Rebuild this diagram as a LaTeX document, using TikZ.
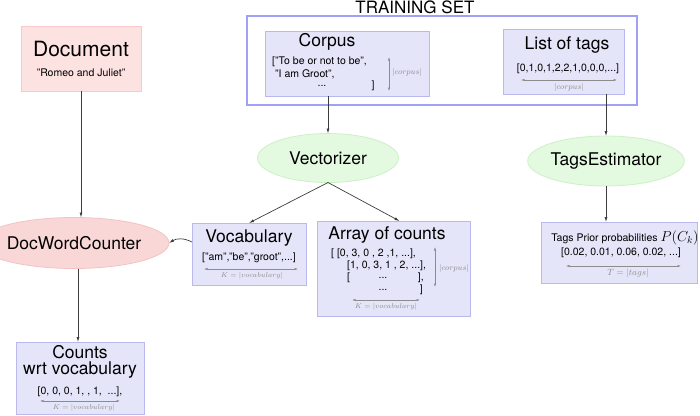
\documentclass[tikz,border=0pt]{standalone}
\usepackage{fontspec}
\setmainfont{TeX Gyre Heros}
\usetikzlibrary{shapes.geometric,arrows.meta}

\definecolor{boxfill}{RGB}{229,229,250}
\definecolor{boxline}{RGB}{185,185,240}
\definecolor{setline}{RGB}{160,160,245}
\definecolor{docfill}{RGB}{253,226,226}
\definecolor{docline}{RGB}{250,200,200}
\definecolor{countfill}{RGB}{250,215,215}
\definecolor{countline}{RGB}{243,195,195}
\definecolor{estfill}{RGB}{228,250,224}
\definecolor{estline}{RGB}{205,240,200}
\definecolor{dimgrey}{RGB}{140,140,140}
\definecolor{conngrey}{RGB}{60,60,60}

\tikzset{
	databox/.style={draw=boxline,fill=boxfill,line width=0.8pt,inner sep=0,outer sep=0},
	docbox/.style={draw=docline,fill=docfill,line width=0.8pt,inner sep=0,outer sep=0},
	estnode/.style={ellipse,draw=estline,fill=estfill,line width=0.8pt,inner sep=0,outer sep=0,font=\fontsize{17.5}{20}\selectfont},
	countnode/.style={ellipse,draw=countline,fill=countfill,line width=0.8pt,inner sep=0,outer sep=0,font=\fontsize{17.5}{20}\selectfont},
	boxtitle/.style={inner sep=0,font=\fontsize{17.5}{20}\selectfont},
	listtext/.style={inner sep=0,font=\fontsize{10.5}{12}\selectfont},
	dimlabel/.style={inner sep=0,text=dimgrey,font=\fontsize{8.5}{10}\selectfont},
	klabel/.style={inner sep=0,text=dimgrey,font=\fontsize{7}{8}\selectfont},
	dimarrow/.style={draw=dimgrey,line width=0.5pt,{Latex[length=3.5pt,width=2.2pt]}-{Latex[length=3.5pt,width=2.2pt]}},
	conn/.style={draw=conngrey,line width=0.7pt,-{Latex[length=5pt,width=3pt]}}
}

\begin{document}
\begin{tikzpicture}[x=1pt,y=-1pt]
	\useasboundingbox (0,0) rectangle (700,415);
	% training set
	\node[draw=setline,line width=1.1pt,inner sep=0,minimum width=390pt,minimum height=89pt] (trainset) at (442,60.5) {};
	\node[inner sep=0,font=\fontsize{17}{20}\selectfont] (traintitle) at (415,7) {TRAINING SET};
	\node[databox,minimum width=164pt,minimum height=65pt] (corpus) at (347,63.5) {};
	\node[boxtitle] (corpustitle) at (327,42) {Corpus};
	\node[listtext,anchor=west] (corpusa) at (272,62) {["To be or not to be",};
	\node[listtext,anchor=west] (corpusb) at (275,74) {"I am Groot",};
	\node[listtext] (corpusc) at (322,86) {...};
	\node[listtext] (corpusd) at (373,86) {]};
	\coordinate (corpustop) at (389,57);
	\coordinate (corpusbot) at (389,91);
	\draw[dimarrow] (corpustop) -- (corpusbot);
	\node[dimlabel] (corpuslen) at (407,72) {$|corpus|$};
	\node[databox,minimum width=121pt,minimum height=65pt] (tags) at (563.5,61.5) {};
	\node[boxtitle] (tagstitle) at (567,45) {List of tags};
	\node[listtext] (tagslist) at (568,69) {[0,1,0,1,2,2,1,0,0,0,...]};
	\coordinate (tagsl) at (521,80);
	\coordinate (tagsr) at (617,80);
	\draw[dimarrow] (tagsl) -- (tagsr);
	\node[dimlabel] (tagslen) at (569,87) {$|corpus|$};

	% estimators
	\node[estnode,minimum width=141pt,minimum height=49pt] (vect) at (328,158) {Vectorizer};
	\node[estnode,minimum width=141pt,minimum height=50pt] (tagest) at (606,161) {TagsEstimator};

	% document side
	\node[docbox,minimum width=120pt,minimum height=65pt] (doc) at (81,58.5) {};
	\node[inner sep=0,font=\fontsize{21}{24}\selectfont] (doctitle) at (81,49) {Document};
	\node[listtext] (docname) at (81,73) {"Romeo and Juliet"};
	\node[countnode,minimum width=148pt,minimum height=51pt] (dwc) at (74,243) {DocWordCounter};

	% vocabulary
	\node[databox,minimum width=114pt,minimum height=62pt] (vocab) at (249,254) {};
	\node[boxtitle] (vocabtitle) at (249,238) {Vocabulary};
	\node[listtext] (vocablist) at (249,258) {["am","be","groot",...]};
	\coordinate (vocabl) at (204,269);
	\coordinate (vocabr) at (298,269);
	\draw[dimarrow] (vocabl) -- (vocabr);
	\node[klabel] (vocablen) at (252,276) {$K=|vocabulary|$};

	% array of counts
	\node[databox,minimum width=153pt,minimum height=95pt] (array) at (393.5,268.5) {};
	\node[boxtitle] (arraytitle) at (387,235) {Array of counts};
	\node[listtext,anchor=west] (rowa) at (331,254) {[ [0, 3, 0 , 2 ,1, ...],};
	\node[listtext,anchor=west] (rowb) at (347,266) {[1, 0, 3, 1 , 2, ...],};
	\node[listtext,anchor=west] (rowc) at (347,278) {[};
	\node[listtext] (rowcdots) at (383,278) {...};
	\node[listtext,anchor=east] (rowcend) at (424,278) {],};
	\node[listtext] (rowddots) at (383,290) {...};
	\node[listtext,anchor=east] (rowdend) at (423,290) {]};
	\coordinate (arrayl) at (352,300);
	\coordinate (arrayr) at (420,300);
	\draw[dimarrow] (arrayl) -- (arrayr);
	\node[klabel] (arraywid) at (386,307) {$K=|vocabulary|$};
	\coordinate (arraytop) at (435,247);
	\coordinate (arraybot) at (435,287);
	\draw[dimarrow] (arraytop) -- (arraybot);
	\node[dimlabel] (arraylen) at (454,268) {$|corpus|$};

	% tags prior
	\node[databox,minimum width=156pt,minimum height=61pt] (prior) at (619,252.5) {};
	\node[listtext] (priortitle) at (625,238) {Tags Prior probabilities {\fontsize{14}{16}\selectfont\(P(C_k)\)}};
	\node[listtext] (priorlist) at (621,253) {[0.02, 0.01, 0.06, 0.02, ...]};
	\coordinate (priorl) at (566,266);
	\coordinate (priorr) at (681,266);
	\draw[dimarrow] (priorl) -- (priorr);
	\node[dimlabel,font=\fontsize{9}{10}\selectfont] (priorlen) at (628,273) {$T=|tags|$};

	% counts wrt vocabulary
	\node[databox,minimum width=128pt,minimum height=72pt] (counts) at (80,378) {};
	\node[boxtitle] (countstitle) at (80,352) {Counts};
	\node[boxtitle] (countswrt) at (80,370) {wrt vocabulary};
	\node[listtext] (countslist) at (80,392) {[0, 0, 0, 1, , 1,\ \ ...],};
	\coordinate (countsl) at (40,401);
	\coordinate (countsr) at (120,401);
	\draw[dimarrow] (countsl) -- (countsr);
	\node[klabel] (countslen) at (84,408) {$K=|vocabulary|$};

	% connectors
	\draw[conn] (corpus.south -| vect.north) -- (vect.north);
	\draw[conn] (tags.south -| tagest.north) -- (tagest.north);
	\draw[conn] (vect.south) -- (vocab.north);
	\draw[conn] (vect.south) -- ([xshift=6pt]array.north);
	\draw[conn] (tagest.south) -- (tagest.south |- prior.north);
	\draw[conn] (doc.south) -- (doc.south |- dwc.north);
	\draw[conn] ([xshift=4pt]dwc.south) -- ([xshift=4pt]dwc.south |- counts.north);
	\draw[conn] ([yshift=12pt]vocab.west) to[bend right=30] (dwc.east);
\end{tikzpicture}
\end{document}
